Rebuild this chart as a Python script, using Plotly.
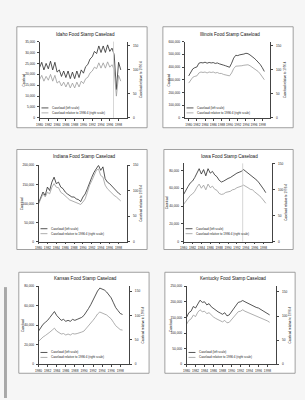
import plotly.graph_objects as go

W, H = 305, 400

periods = [1980.0, 1980.5, 1981.0, 1981.5, 1982.0, 1982.5, 1983.0, 1983.5,
           1984.0, 1984.5, 1985.0, 1985.5, 1986.0, 1986.5, 1987.0, 1987.5,
           1988.0, 1988.5, 1989.0, 1989.5, 1990.0, 1990.5, 1991.0, 1991.5,
           1992.0, 1992.5, 1993.0, 1993.5, 1994.0, 1994.5, 1995.0, 1995.5,
           1996.0, 1996.5, 1997.0, 1997.5, 1998.0, 1998.5]
year_ticks = [1980, 1982, 1984, 1986, 1988, 1990, 1992, 1994, 1996, 1998]
pct_ticks = [0, 50, 100, 150]

# caseload in thousands, relative in percent of 1996:4
idaho_caseload = [23.0, 25.5, 22.0, 25.0, 22.5, 26.0, 22.0, 25.5, 21.0, 22.0, 19.0, 21.5, 18.5, 21.5, 18.0, 21.0,
                  18.0, 21.5, 18.5, 22.0, 20.5, 23.5, 24.5, 27.0, 28.0, 30.5, 29.5, 33.0, 30.0, 33.0, 30.0, 33.5,
                  30.5, 32.0, 29.0, 13.0, 25.5, 22.0]
idaho_relative = [79, 88, 76, 86, 78, 90, 76, 88, 72, 76, 66, 74, 64, 74, 62, 72, 62, 74, 64, 76, 71, 81, 84, 93,
                  97, 105, 102, 114, 103, 114, 103, 116, 105, 110, 100, 45, 88, 76]
illinois_caseload = [330, 360, 385, 395, 400, 430, 435, 432, 438, 430, 436, 432, 435, 428, 432, 425, 422, 415, 410,
                     405, 398, 430, 470, 492, 490, 496, 498, 502, 508, 505, 495, 485, 470, 455, 440, 420, 395, 365]
illinois_relative = [72, 78, 84, 86, 87, 93, 95, 94, 95, 93, 95, 94, 95, 93, 94, 92, 92, 90, 89, 88, 87, 93, 102,
                     107, 107, 108, 108, 109, 110, 110, 108, 105, 102, 99, 96, 91, 86, 79]
indiana_caseload = [101, 117, 130, 121, 143, 134, 156, 169, 152, 156, 143, 139, 130, 125, 121, 117, 117, 112, 110,
                    105, 117, 125, 139, 156, 169, 182, 191, 200, 187, 196, 165, 156, 152, 145, 139, 134, 127, 123]
indiana_relative = [74, 84, 94, 88, 97, 94, 107, 114, 107, 106, 97, 94, 89, 86, 82, 80, 78, 76, 74, 73, 78, 84, 97,
                    111, 120, 130, 140, 143, 130, 127, 111, 104, 99, 94, 91, 88, 84, 80]
iowa_caseload = [53, 58, 62, 66, 68, 72, 78, 82, 76, 81, 74, 82, 77, 79, 75, 73, 69, 67, 68, 70, 71, 72, 74, 75,
                 77, 78, 79, 81, 79, 77, 75, 74, 71, 69, 66, 63, 59, 55]
iowa_relative = [72, 78, 84, 89, 92, 97, 105, 111, 103, 109, 100, 111, 104, 107, 101, 99, 93, 91, 92, 95, 96, 97,
                 100, 101, 104, 105, 107, 109, 107, 104, 101, 100, 96, 93, 89, 85, 80, 74]
kansas_caseload = [34, 38, 41, 43, 45, 48, 51, 54, 50, 47, 45, 46, 44, 45, 44, 46, 45, 46, 47, 48, 50, 53, 57, 61,
                   66, 70, 75, 78, 77, 76, 74, 71, 68, 63, 58, 55, 52, 51]
kansas_relative = [47, 52, 56, 59, 62, 66, 70, 74, 68, 64, 62, 63, 60, 62, 60, 63, 62, 63, 64, 66, 68, 73, 78, 84,
                   90, 96, 103, 107, 105, 104, 101, 97, 93, 86, 79, 75, 71, 70]
kentucky_caseload = [150, 165, 170, 185, 180, 195, 205, 198, 200, 190, 194, 184, 178, 172, 168, 164, 160, 165, 155,
                     158, 168, 180, 190, 198, 200, 204, 200, 196, 192, 188, 186, 182, 180, 176, 172, 167, 162, 158]
kentucky_relative = [83, 91, 94, 102, 99, 108, 113, 109, 110, 105, 107, 102, 98, 95, 93, 91, 88, 91, 86, 87, 93, 99,
                     105, 109, 110, 113, 110, 108, 106, 104, 103, 101, 99, 97, 95, 92, 90, 87]

titles = ["Idaho Food Stamp Caseload", "Illinois Food Stamp Caseload", "Indiana Food Stamp Caseload",
          "Iowa Food Stamp Caseload", "Kansas Food Stamp Caseload", "Kentucky Food Stamp Caseload"]
caseloads = [idaho_caseload, illinois_caseload, indiana_caseload, iowa_caseload, kansas_caseload, kentucky_caseload]
relatives = [idaho_relative, illinois_relative, indiana_relative, iowa_relative, kansas_relative, kentucky_relative]
left_max = [35000, 600000, 200000, 88000, 80000, 250000]
left_step = [5000, 100000, 50000, 20000, 20000, 50000]
right_max = [158, 158, 150, 151, 160, 162]
ref_lines = {0: 1996.85, 3: 1993.3}
legend_labels = ["Caseload (left scale)", "Caseload relative to 1996:4 (right scale)"]

# layout geometry in pixels
geo = [
    dict(L=36, R=125, T=40, B=117, ty=33, box=(13, 25, 145, 127), lg=(10, 5), xr=(1980, 2000)),
    dict(L=183, R=270, T=40, B=117, ty=33, box=(161, 25, 293, 127), lg=(10, 5), xr=(1979, 2000)),
    dict(L=35, R=125, T=165, B=242, ty=156, box=(13, 149, 145, 250), lg=(13, 8), xr=(1980, 2000)),
    dict(L=182, R=272, T=163, B=242, ty=156, box=(162, 149, 293, 250), lg=(13, 8), xr=(1980, 2000)),
    dict(L=35, R=127, T=287, B=366, ty=279, box=(15, 273, 147, 375), lg=(12, 7), xr=(1980, 2000)),
    dict(L=185, R=276, T=287, B=366, ty=279, box=(163, 273, 295, 375), lg=(12, 7), xr=(1980, 2000)),
]

def px(x):
    return x / W

def py(y):
    return 1 - y / H

FONT = "Liberation Sans"
DARK = "#2a2a2a"
LIGHT = "#9a9a9a"
AX = "#444444"

fig = go.Figure()
layout = dict(width=W, height=H, margin=dict(l=0, r=0, t=0, b=0, pad=0),
              paper_bgcolor="#f6f6f6", plot_bgcolor="#ffffff", showlegend=False,
              font=dict(family=FONT, color="#222222"))
shapes = [dict(type="rect", xref="paper", yref="paper", x0=0, x1=px(3), y0=py(400), y1=py(288),
               fillcolor="#a8a8a8", line=dict(width=0), layer="below")]
annotations = []

for i in range(6):
    g = geo[i]
    n = i + 1
    xa = "x" if n == 1 else f"x{n}"
    ya = "y" if 2 * n - 1 == 1 else f"y{2*n-1}"
    yb = f"y{2*n}"
    xkey = "xaxis" if n == 1 else f"xaxis{n}"
    ykey = "yaxis" if 2 * n - 1 == 1 else f"yaxis{2*n-1}"
    y2key = f"yaxis{2*n}"

    bx0, by0, bx1, by1 = g["box"]
    shapes.append(dict(type="rect", xref="paper", yref="paper", x0=px(bx0), x1=px(bx1), y0=py(by1), y1=py(by0),
                       fillcolor="#ffffff", line=dict(color="#8a8a8a", width=0.8), layer="below"))

    layout[xkey] = dict(domain=[px(g["L"]), px(g["R"])], range=list(g["xr"]), anchor=ya,
                        tickvals=year_ticks, ticks="outside", ticklen=2, tickwidth=0.6, tickcolor=AX,
                        tickangle=0,
                        showline=True, linecolor=AX, linewidth=0.8, showgrid=False, zeroline=False,
                        tickfont=dict(size=3.2, family=FONT), ticklabelstandoff=1)
    layout[ykey] = dict(domain=[py(g["B"]), py(g["T"])], range=[0, left_max[i]], anchor=xa,
                        tickvals=list(range(0, left_max[i] + 1, left_step[i])), tickformat=",d",
                        ticks="outside", ticklen=2, tickwidth=0.6, tickcolor=AX,
                        showline=True, linecolor=AX, linewidth=0.8, showgrid=False, zeroline=False,
                        tickfont=dict(size=3.2, family=FONT), ticklabelstandoff=1)
    layout[y2key] = dict(overlaying=ya, side="right", anchor=xa, range=[0, right_max[i]],
                         tickvals=pct_ticks, ticksuffix="%", ticks="outside", ticklen=2, tickwidth=0.6,
                         tickcolor=AX, showline=True, linecolor=AX, linewidth=0.8, showgrid=False,
                         zeroline=False, tickfont=dict(size=3.2, family=FONT), ticklabelstandoff=2)

    if i in ref_lines:
        shapes.append(dict(type="line", xref=xa, yref="paper", x0=ref_lines[i], x1=ref_lines[i],
                           y0=py(g["B"]), y1=py(g["T"]), line=dict(color="#cccccc", width=0.8)))

    fig.add_trace(go.Scatter(x=periods, y=[v * 1000 for v in caseloads[i]], mode="lines",
                             line=dict(color=DARK, width=0.8), xaxis=xa, yaxis=ya))
    fig.add_trace(go.Scatter(x=periods, y=relatives[i], mode="lines",
                             line=dict(color=LIGHT, width=0.8), xaxis=xa, yaxis=yb))

    cx = (g["L"] + g["R"]) / 2 + 2
    annotations.append(dict(text=titles[i], xref="paper", yref="paper", x=px(cx), y=py(g["ty"]),
                            showarrow=False, xanchor="center", yanchor="middle",
                            font=dict(size=4.6, family=FONT, color="#111111")))
    cy = (g["T"] + g["B"]) / 2
    annotations.append(dict(text="Caseload", xref="paper", yref="paper", x=px(g["L"] - 16), y=py(cy),
                            textangle=-90, showarrow=False, xanchor="center", yanchor="middle",
                            font=dict(size=3, family=FONT)))
    annotations.append(dict(text="Caseload relative to 1996:4", xref="paper", yref="paper",
                            x=px(g["R"] + 14), y=py(cy), textangle=-90, showarrow=False,
                            xanchor="center", yanchor="middle", font=dict(size=3, family=FONT)))
    for k, (off, col) in enumerate(zip(g["lg"], [DARK, LIGHT])):
        yy = g["B"] - off
        shapes.append(dict(type="line", xref="paper", yref="paper", x0=px(g["L"] + 2), x1=px(g["L"] + 9),
                           y0=py(yy), y1=py(yy), line=dict(color=col, width=0.8)))
        annotations.append(dict(text=legend_labels[k], xref="paper", yref="paper", x=px(g["L"] + 10.5),
                                y=py(yy), showarrow=False, xanchor="left", yanchor="middle",
                                font=dict(size=3, family=FONT)))

layout["shapes"] = shapes
layout["annotations"] = annotations
fig.update_layout(**layout)
fig.write_html("out.html")
